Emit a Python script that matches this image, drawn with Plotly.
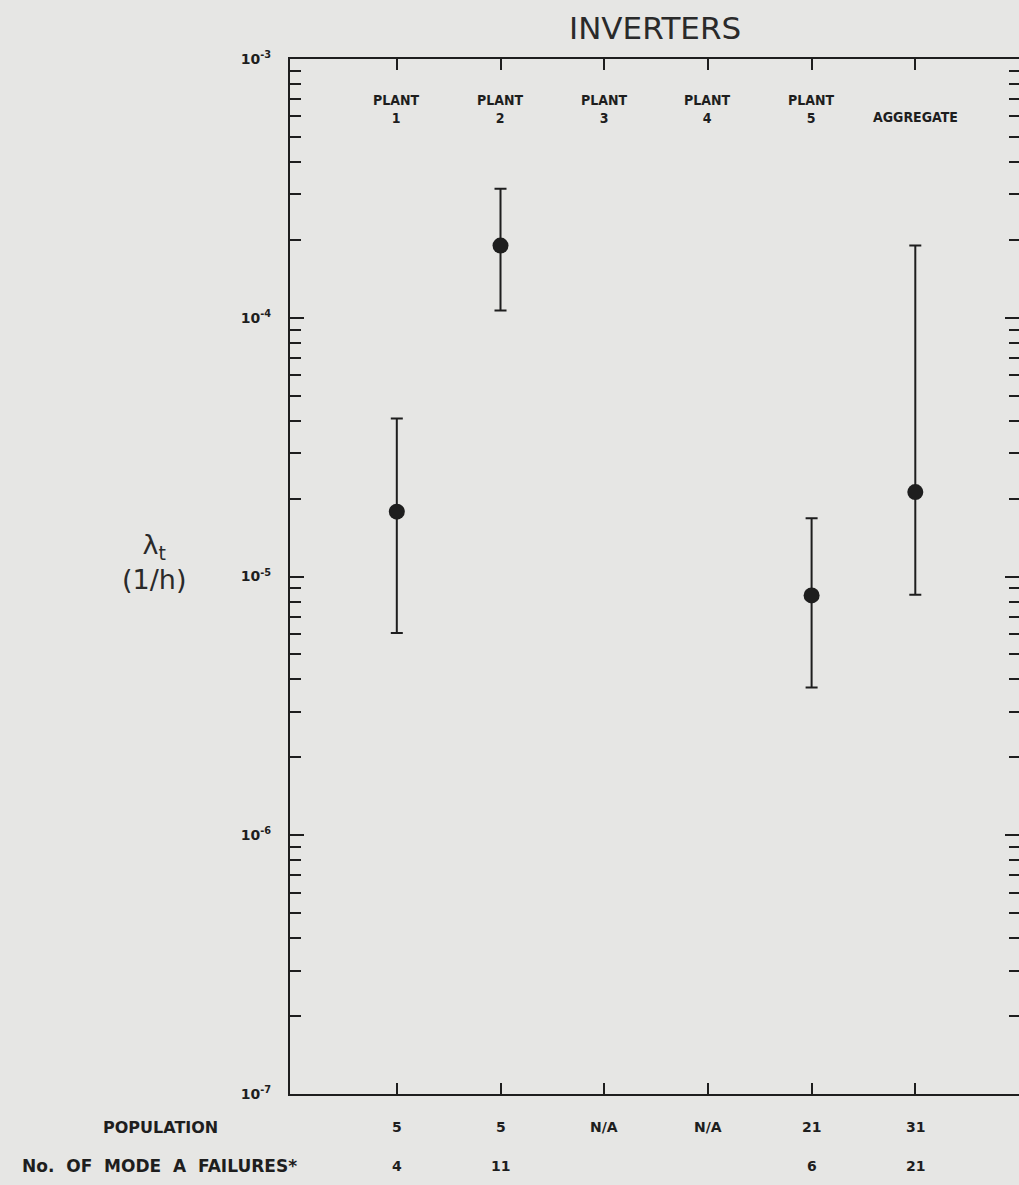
import plotly.graph_objects as go

# ---- data ----
categories = ["Plant 1", "Plant 2", "Plant 3", "Plant 4", "Plant 5", "Aggregate"]
top_labels = ["PLANT<br>1", "PLANT<br>2", "PLANT<br>3", "PLANT<br>4", "PLANT<br>5", "AGGREGATE"]
plot_cats = ["Plant 1", "Plant 2", "Plant 5", "Aggregate"]
point_est = [1.78e-5, 1.90e-4, 8.45e-6, 2.12e-5]
upper_bound = [4.08e-5, 3.15e-4, 1.68e-5, 1.90e-4]
lower_bound = [6.05e-6, 1.066e-4, 3.72e-6, 8.5e-6]
population = ["5", "5", "N/A", "N/A", "21", "31"]
failures = ["4", "11", "", "", "6", "21"]
major_ticks = [1e-7, 1e-6, 1e-5, 1e-4, 1e-3]
major_text = ["10<sup>-7</sup>", "10<sup>-6</sup>", "10<sup>-5</sup>", "10<sup>-4</sup>", "10<sup>-3</sup>"]

minor_ticks = [m * d for d in major_ticks[:-1] for m in range(2, 10)]

BG = "#e6e6e4"
INK = "#1e1e1e"
FONT = "DejaVu Sans Condensed"
BFONT = "DejaVu Sans"

fig = go.Figure()
fig.add_trace(go.Scatter(
    x=plot_cats, y=point_est, mode="markers",
    marker=dict(size=16, color=INK),
    error_y=dict(type="data", symmetric=False,
                 array=[u - p for u, p in zip(upper_bound, point_est)],
                 arrayminus=[p - l for p, l in zip(point_est, lower_bound)],
                 thickness=2, width=6, color=INK),
    showlegend=False, hoverinfo="skip"))
# invisible trace for right mirrored axis
fig.add_trace(go.Scatter(x=[categories[0]], y=[1e-5], yaxis="y2", mode="markers",
                         marker=dict(opacity=0), showlegend=False, hoverinfo="skip"))

fig.update_layout(
    width=1019, height=1185,
    margin=dict(l=290, r=0, t=59, b=91),
    paper_bgcolor=BG, plot_bgcolor=BG,
    font=dict(family=FONT, color=INK),
    xaxis=dict(type="category", categoryorder="array", categoryarray=categories,
               range=[-1.03, 6.0], showgrid=False, zeroline=False,
               showline=True, linecolor=INK, linewidth=2, mirror="ticks",
               ticks="inside", ticklen=11, tickwidth=2, tickcolor=INK,
               showticklabels=False),
    yaxis=dict(type="log", range=[-7, -3], showgrid=False, zeroline=False,
               showline=True, linecolor=INK, linewidth=2,
               ticks="inside", ticklen=14, tickwidth=2, tickcolor=INK,
               tickmode="array", tickvals=major_ticks, ticktext=major_text,
               tickfont=dict(size=14, family=BFONT, color=INK, weight="bold"),
               ticklabelstandoff=14,
               minor=dict(ticks="inside", ticklen=11, tickwidth=2, tickcolor=INK,
                          tickmode="array", tickvals=minor_ticks, showgrid=False)),
    yaxis2=dict(type="log", range=[-7, -3], overlaying="y", side="right",
                showgrid=False, zeroline=False, showline=False,
                ticks="inside", ticklen=14, tickwidth=2, tickcolor=INK,
                tickmode="array", tickvals=major_ticks, showticklabels=False,
                minor=dict(ticks="inside", ticklen=10, tickwidth=2, tickcolor=INK,
                           tickmode="array", tickvals=minor_ticks, showgrid=False)),
)

annotations = []
# title
annotations.append(dict(text="INVERTERS", xref="paper", yref="paper", x=0.5, y=1.0,
                        yshift=31, showarrow=False, yanchor="middle", xanchor="center",
                        font=dict(size=31, family=BFONT, color="#2a2a2a")))
# plant labels inside plot
for cat, lab in zip(categories, top_labels):
    annotations.append(dict(text=lab,
                            xref="x", yref="paper", x=cat,
                            y=(1094 - 109) / 1035 if "<br>" in lab else (1094 - 117) / 1035,
                            showarrow=False, yanchor="middle", xanchor="center",
                            font=dict(size=14, family=FONT, color=INK, weight="bold")))
# y axis title
annotations.append(dict(text="λ<sub>t</sub><br>(1/h)", xref="paper", yref="paper",
                        x=(154 - 290) / 729, y=(1094 - 562) / 1035, showarrow=False,
                        xanchor="center", yanchor="middle",
                        font=dict(size=27, family=BFONT, color="#2a2a2a")))
# bottom rows
row1_y = (1094 - 1127) / 1035
row2_y = (1094 - 1166) / 1035
annotations.append(dict(text="POPULATION", xref="paper", yref="paper",
                        x=(160 - 290) / 729, y=row1_y, showarrow=False,
                        xanchor="center", yanchor="middle",
                        font=dict(size=16, family=BFONT, color=INK, weight="bold")))
annotations.append(dict(text="No.  OF  MODE  A  FAILURES*", xref="paper", yref="paper",
                        x=(159 - 290) / 729, y=row2_y, showarrow=False,
                        xanchor="center", yanchor="middle",
                        font=dict(size=17, family=BFONT, color=INK, weight="bold")))
for cat, p, f in zip(categories, population, failures):
    annotations.append(dict(text=p, xref="x", yref="paper", x=cat, y=row1_y,
                            showarrow=False, xanchor="center", yanchor="middle",
                            font=dict(size=14, family=BFONT, color=INK, weight="bold")))
    if f:
        annotations.append(dict(text=f, xref="x", yref="paper", x=cat, y=row2_y,
                                showarrow=False, xanchor="center", yanchor="middle",
                                font=dict(size=14, family=BFONT, color=INK, weight="bold")))

fig.update_layout(annotations=annotations)
fig.write_html("out.html")
